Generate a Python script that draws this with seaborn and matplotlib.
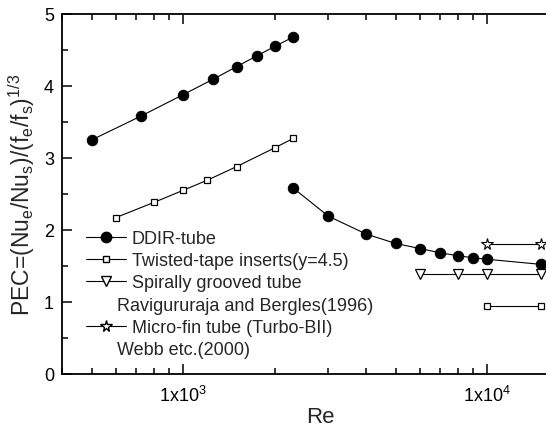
import matplotlib
matplotlib.use("Agg")
import matplotlib.pyplot as plt
import seaborn as sns
from matplotlib.lines import Line2D
from matplotlib.ticker import FixedLocator, FixedFormatter, LogLocator, NullFormatter

# DDIR-tube: two separate branches (laminar / turbulent)
ddir_re = [500, 725, 1000, 1250, 1500, 1750, 2000, 2300,
           2300, 3000, 4000, 5000, 6000, 7000, 8000, 9000, 10000, 15000]
ddir_pec = [3.25, 3.58, 3.88, 4.09, 4.27, 4.42, 4.55, 4.68,
            2.58, 2.19, 1.94, 1.81, 1.74, 1.68, 1.64, 1.61, 1.59, 1.52]
ddir_seg = [0, 0, 0, 0, 0, 0, 0, 0, 1, 1, 1, 1, 1, 1, 1, 1, 1, 1]

# twisted-tape inserts
tape_re = [600, 800, 1000, 1200, 1500, 2000, 2300, 10000, 15000]
tape_pec = [2.17, 2.38, 2.55, 2.69, 2.88, 3.14, 3.27, 0.94, 0.94]
tape_seg = [0, 0, 0, 0, 0, 0, 0, 1, 1]

# spirally grooved tube
spiral_re = [6000, 8000, 10000, 15000]
spiral_pec = [1.39, 1.39, 1.39, 1.39]

# micro-fin tube
micro_re = [10000, 15000]
micro_pec = [1.80, 1.80]

labels = ["DDIR-tube", "Twisted-tape inserts(y=4.5)", "Spirally grooved tube",
          "Micro-fin tube (Turbo-BII)"]
notes = ["Ravigururaja and Bergles(1996)", "Webb etc.(2000)"]

sns.set_style("ticks")
plt.rcParams["font.family"] = ["Liberation Sans", "DejaVu Sans"]
plt.rcParams["mathtext.default"] = "regular"

fig = plt.figure(figsize=(5.46, 4.27), dpi=100)
ax = fig.add_axes([0.1141, 0.1225, 0.946, 0.8424])

lw = 0.8
sns.lineplot(x=ddir_re, y=ddir_pec, units=ddir_seg, estimator=None, ax=ax,
             color="k", lw=lw, marker="o", ms=7.5, mfc="k", mec="k")
sns.lineplot(x=tape_re, y=tape_pec, units=tape_seg, estimator=None, ax=ax,
             color="k", lw=lw, marker="s", ms=5, mfc="white", mec="k", mew=0.9)
sns.lineplot(x=spiral_re, y=spiral_pec, estimator=None, ax=ax,
             color="k", lw=lw, marker="v", ms=7, mfc="white", mec="k", mew=0.9)
sns.lineplot(x=micro_re, y=micro_pec, estimator=None, ax=ax,
             color="k", lw=lw, marker="*", ms=8.5, mfc="white", mec="k", mew=0.8)

ax.set_xscale("log")
ax.set_xlim(400, 20000)
ax.set_ylim(0, 5)

ax.xaxis.set_major_locator(FixedLocator([1000, 10000]))
ax.xaxis.set_major_formatter(FixedFormatter(["1x10$^3$", "1x10$^4$"]))
ax.xaxis.set_minor_locator(LogLocator(base=10, subs=range(2, 10)))
ax.xaxis.set_minor_formatter(NullFormatter())
ax.set_yticks([0, 1, 2, 3, 4, 5])
ax.set_yticks([0.5, 1.5, 2.5, 3.5, 4.5], minor=True)

ax.tick_params(which="both", direction="in", top=True, right=False,
               labelsize=13, width=1.1, colors="k")
ax.tick_params(which="major", length=7, pad=6)
ax.tick_params(which="minor", length=4)
ax.tick_params(axis="x", which="major", pad=8)
for s in ["left", "bottom", "top"]:
    ax.spines[s].set_visible(True)
    ax.spines[s].set_linewidth(1.3)
    ax.spines[s].set_color("k")

ax.set_xlabel("Re", fontsize=16, labelpad=1)
ax.set_ylabel("PEC=(Nu$_e$/Nu$_s$)/(f$_e$/f$_s$)$^{1/3}$", fontsize=16.5, labelpad=5)

# legend: four series; the reference lines sit on rows without a symbol
blank = Line2D([], [], linestyle="none", marker="none")
handles = [
    Line2D([], [], color="k", lw=lw, marker="o", ms=7.5, mfc="k", mec="k"),
    Line2D([], [], color="k", lw=lw, marker="s", ms=5, mfc="white", mec="k"),
    Line2D([], [], color="k", lw=lw, marker="v", ms=7, mfc="white", mec="k"),
    blank,
    Line2D([], [], color="k", lw=lw, marker="*", ms=8.5, mfc="white", mec="k"),
    blank,
]
leg = ax.legend(handles, [labels[0], labels[1], labels[2], notes[0], labels[3], notes[1]],
                loc="upper left", bbox_to_anchor=(0.046, 0.3995), frameon=False,
                fontsize=13, handlelength=2.2, handletextpad=0.33,
                labelspacing=0.29, borderpad=0, borderaxespad=0, numpoints=1)
for t in [leg.get_texts()[3], leg.get_texts()[5]]:
    t.set_position((-15, 0))

fig.savefig("out.png", dpi=100)
